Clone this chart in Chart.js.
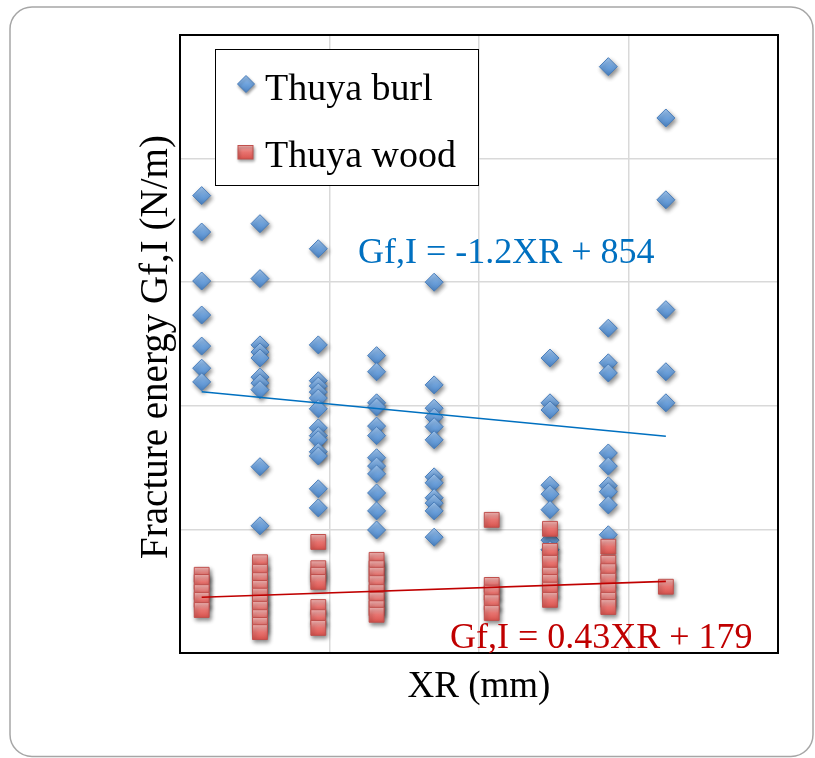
<!DOCTYPE html>
<html><head><meta charset="utf-8">
<script src="https://cdn.jsdelivr.net/npm/chart.js@4.4.0/dist/chart.umd.min.js"></script>
<style>html,body{margin:0;padding:0;background:#fff;}#wrap{width:815px;height:758px;position:relative;}</style>
</head><body><div id="wrap"><canvas id="c" width="815" height="758"></canvas></div>
<script>
const seriesNames = ['Thuya burl', 'Thuya wood'];
const xrColumns = [202.9, 210.7, 218.5, 226.3, 234.0, 241.7, 249.5, 257.3, 265.0];
const burlByColumn = [
  [939, 878, 796, 739, 687, 650, 627],
  [892, 800, 689, 677, 667, 635, 625, 614, 485, 386],
  [850, 689, 629, 620, 610, 600, 582, 550, 537, 530, 510, 503, 448, 416],
  [671, 644, 592, 585, 553, 537, 500, 486, 473, 441, 411, 379],
  [794, 622, 583, 568, 552, 530, 468, 458, 433, 424, 411, 367],
  [],
  [667, 592, 580, 454, 439, 413, 362, 346],
  [1155, 717, 659, 642, 508, 486, 453, 443, 421, 371],
  [1069, 932, 748, 644, 592]
];
const woodByColumn = [
  [304, 292, 275, 262, 245],
  [325, 309, 295, 282, 269, 257, 247, 233, 220, 208],
  [359, 315, 304, 292, 250, 233, 215],
  [329, 315, 304, 290, 275, 262, 248, 237],
  [],
  [396, 287, 274, 258, 240],
  [381, 344, 324, 304, 292, 279, 262],
  [351, 324, 310, 294, 277, 262, 250],
  [284]
];
const trendSlopes = [-1.2, 0.43];
const trendIntercepts = [854, 179];
const xAxisTitle = 'XR (mm)';
const yAxisTitle = 'Fracture energy Gf,I (N/m)';
const xRange = [200, 280];
const yRange = [173, 1208];

function toPoints(cols) {
  const out = [];
  cols.forEach((vals, i) => vals.forEach(v => out.push({x: xrColumns[i], y: v})));
  return out;
}
function trendPoints(k) {
  const xs = [xrColumns[0], xrColumns[xrColumns.length - 1]];
  return xs.map(x => ({x: x, y: trendSlopes[k] * x + trendIntercepts[k]}));
}
function eqLabel(k) {
  return 'Gf,I = ' + trendSlopes[k] + 'XR + ' + trendIntercepts[k];
}
const blueStops = ['#9CC3EE', '#6FA3DD', '#4E86C6'];
const redStops = ['#F6B9B7', '#E87470', '#D9544F'];
function markerFill(stops, half) {
  return function (ctx) {
    const chart = ctx.chart;
    if (ctx.type !== 'data' || !chart.scales || !chart.scales.y || !ctx.raw) return stops[1];
    const py = chart.scales.y.getPixelForValue(ctx.raw.y);
    if (!isFinite(py)) return stops[1];
    const g = chart.ctx.createLinearGradient(0, py - half, 0, py + half);
    g.addColorStop(0, stops[0]); g.addColorStop(0.5, stops[1]); g.addColorStop(1, stops[2]);
    return g;
  };
}
const FONT = '"Liberation Serif", "Times New Roman", serif';

const decor = {
  id: 'decor',
  beforeDraw(chart) {
    const c = chart.ctx;
    c.save();
    c.fillStyle = '#fff'; c.fillRect(0, 0, chart.width, chart.height);
    c.strokeStyle = '#A6A6A6'; c.lineWidth = 1.5;
    c.beginPath();
    if (c.roundRect) c.roundRect(10, 7, 803, 749.5, 22); else c.rect(10, 7, 803, 749.5);
    c.stroke();
    c.restore();
  },
  beforeDatasetsDraw(chart) {
    const a = chart.chartArea, c = chart.ctx;
    c.save(); c.strokeStyle = '#000'; c.lineWidth = 2;
    c.strokeRect(a.left, a.top, a.right - a.left, a.bottom - a.top);
    c.restore();
  },
  beforeDatasetDraw(chart, args) {
    const c = chart.ctx; c.save();
    if (args.index < 2) {
      c.shadowColor = 'rgba(0,0,0,0.45)'; c.shadowBlur = 4; c.shadowOffsetX = 1.5; c.shadowOffsetY = 2.5;
    }
  },
  afterDatasetDraw(chart) { chart.ctx.restore(); },
  afterDraw(chart) {
    const c = chart.ctx;
    c.save();
    c.fillStyle = '#fff'; c.fillRect(215.5, 49.5, 263, 136);
    c.strokeStyle = '#000'; c.lineWidth = 1; c.strokeRect(215.5, 49.5, 263, 136);
    c.save();
    c.shadowColor = 'rgba(0,0,0,0.4)'; c.shadowBlur = 3; c.shadowOffsetX = 1; c.shadowOffsetY = 2;
    let g = c.createLinearGradient(0, 76, 0, 92);
    g.addColorStop(0, blueStops[0]); g.addColorStop(0.5, blueStops[1]); g.addColorStop(1, blueStops[2]);
    c.fillStyle = g; c.strokeStyle = '#4A7EBB'; c.lineWidth = 1;
    c.beginPath(); c.moveTo(246, 75.5); c.lineTo(254.5, 84); c.lineTo(246, 92.5); c.lineTo(237.5, 84); c.closePath();
    c.fill(); c.stroke();
    g = c.createLinearGradient(0, 145, 0, 159);
    g.addColorStop(0, redStops[0]); g.addColorStop(0.5, redStops[1]); g.addColorStop(1, redStops[2]);
    c.fillStyle = g; c.strokeStyle = '#C0504D';
    c.fillRect(238, 145.5, 15, 13.5); c.strokeRect(238, 145.5, 15, 13.5);
    c.restore();
    c.fillStyle = '#000'; c.font = '38px ' + FONT; c.textBaseline = 'alphabetic'; c.textAlign = 'left';
    c.fillText(seriesNames[0], 265, 100);
    c.fillText(seriesNames[1], 265, 167);
    c.font = '36px ' + FONT;
    c.fillStyle = '#0070C0'; c.fillText(eqLabel(0), 358, 263);
    c.fillStyle = '#C00000'; c.fillText(eqLabel(1), 450, 648);
    c.fillStyle = '#000'; c.font = '37px ' + FONT; c.textAlign = 'center';
    c.fillText(xAxisTitle, 479, 697);
    c.save(); c.translate(167, 347); c.rotate(-Math.PI / 2);
    c.font = '39px ' + FONT; c.fillText(yAxisTitle, 0, 0);
    c.restore();
    c.restore();
  }
};

new Chart(document.getElementById('c'), {
  type: 'scatter',
  data: {
    datasets: [
      {label: seriesNames[0], data: toPoints(burlByColumn), pointStyle: 'rectRot', pointRadius: 9, pointHoverRadius: 9,
        backgroundColor: markerFill(blueStops, 8), borderColor: '#4A7EBB', borderWidth: 1, order: 2},
      {label: seriesNames[1], data: toPoints(woodByColumn), pointStyle: 'rect', pointRadius: 10.5, pointHoverRadius: 10.5,
        backgroundColor: markerFill(redStops, 7.5), borderColor: '#C0504D', borderWidth: 1, order: 1},
      {type: 'line', label: 'burl trend', data: trendPoints(0), borderColor: '#0070C0', borderWidth: 1.6,
        pointRadius: 0, fill: false, showLine: true, order: 0},
      {type: 'line', label: 'wood trend', data: trendPoints(1), borderColor: '#C00000', borderWidth: 1.6,
        pointRadius: 0, fill: false, showLine: true, order: 0}
    ]
  },
  options: {
    responsive: false, animation: false, devicePixelRatio: 1,
    layout: {autoPadding: false, padding: {left: 180, top: 35, right: 37, bottom: 105}},
    plugins: {legend: {display: false}, tooltip: {enabled: false}},
    scales: {
      x: {type: 'linear', min: xRange[0], max: xRange[1],
        ticks: {display: false, stepSize: 20},
        grid: {color: '#D9D9D9', lineWidth: 1.5, drawTicks: false}, border: {display: false}},
      y: {type: 'linear', min: yRange[0], max: yRange[1],
        afterBuildTicks: (s) => { const t = []; for (let i = 0; i <= 5; i++) t.push({value: yRange[0] + i * (yRange[1] - yRange[0]) / 5}); s.ticks = t; },
        ticks: {display: false},
        grid: {color: '#D9D9D9', lineWidth: 1.5, drawTicks: false}, border: {display: false}}
    }
  },
  plugins: [decor]
});
</script></body></html>
